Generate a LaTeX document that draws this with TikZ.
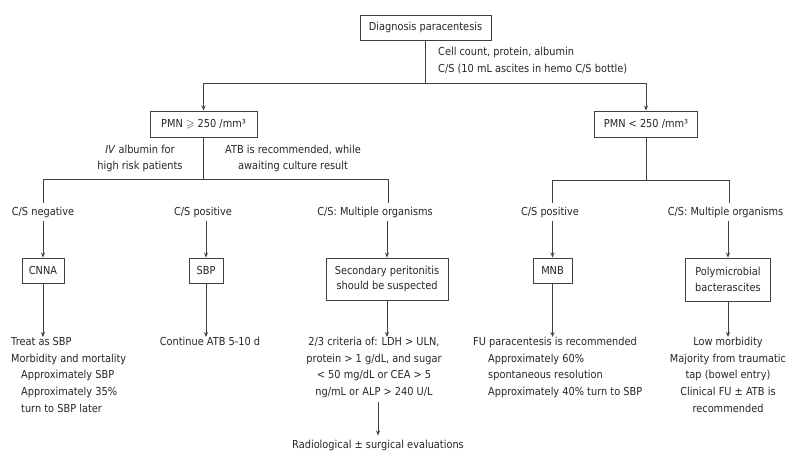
\documentclass[tikz,border=0pt]{standalone}
\usepackage{amssymb}
\usepackage{fontspec}
\setmainfont{DejaVu Sans}[FakeStretch=0.89]
\usetikzlibrary{arrows.meta}
\begin{document}
\begin{tikzpicture}[x=1pt,y=-1pt,
  every node/.style={font=\fontsize{11}{16.7}\selectfont, text=black!85},
  box/.style={draw=black!75, line width=0.9pt, minimum height=25pt, inner xsep=4pt, inner ysep=2pt, align=center},
  lbl/.style={inner xsep=2pt, inner ysep=3.5pt},
  txt/.style={inner sep=0pt},
  con/.style={draw=black!75, line width=0.9pt},
  arr/.style={con, -{Stealth[length=5pt,width=4pt]}}
]
\useasboundingbox (0,0) rectangle (800,455);

% top
\node[box, minimum width=131pt] (diag) at (425.5,27.5) {Diagnosis paracentesis};
\node[txt, anchor=west, align=left] (cell) at (438,60.5) {Cell count, protein, albumin\\C/S (10 mL ascites in hemo C/S bottle)};
\coordinate (j1) at (425.5,83);
\node[box, minimum width=107pt, minimum height=26pt] (pmnL) at (203.5,124) {PMN $\geqslant$ 250 /mm³};
\node[box, minimum width=103pt, minimum height=26pt] (pmnR) at (646,124) {PMN < 250 /mm³};
\draw[con] (diag.south) -- (j1);
\draw[arr] (j1) -| (pmnL.north);
\draw[arr] (j1) -| (pmnR.north);

% left branch texts
\node[txt, align=center] (alb) at (140,158.5) {\textit{IV} albumin for\\high risk patients};
\node[txt, align=center] (atb) at (293,158.5) {ATB is recommended, while\\awaiting culture result};

% left split
\coordinate (j2) at (203.5,179);
\coordinate (cL3) at (388,179);
\node[lbl] (lneg) at (43,212) {C/S negative};
\node[lbl] (lpos) at (203,212) {C/S positive};
\node[lbl] (lmul) at (375,212) {C/S: Multiple organisms};
\draw[con] (pmnL.south) -- (j2);
\draw[con] (lneg.north) |- (cL3) -- (cL3 |- lmul.north);

\node[box, minimum width=42pt] (cnna) at (43,270.5) {CNNA};
\node[box, minimum width=34pt] (sbp) at (206,270.5) {SBP};
\node[box, minimum width=122pt, minimum height=42pt, inner ysep=1pt] (sec) at (387,279) {Secondary peritonitis\\[-1pt]should be suspected};
\draw[arr] (lneg.south) -- (cnna.north);
\draw[arr] (sbp.north |- lpos.south) -- (sbp.north);
\draw[arr] (sec.north |- lmul.south) -- (sec.north);

% right split
\coordinate (j3) at (646,180);
\coordinate (cR1) at (552.5,180);
\coordinate (cR2) at (729,180);
\node[lbl] (rpos) at (550,212) {C/S positive};
\node[lbl] (rmul) at (725.5,212) {C/S: Multiple organisms};
\draw[con] (pmnR.south) -- (j3);
\draw[con] (cR1 |- rpos.north) -- (cR1) -- (cR2) -- (cR2 |- rmul.north);

\node[box, minimum width=39pt] (mnb) at (552.5,270.5) {MNB};
\node[box, minimum width=85pt, minimum height=43pt, inner ysep=1pt] (poly) at (728,279.5) {Polymicrobial\\[-1pt]bacterascites};
\draw[arr] (mnb.north |- rpos.south) -- (mnb.north);
\draw[arr] (poly.north |- rmul.south) -- (poly.north);

% bottom texts
\node[txt, anchor=north west, align=left] (cnnaT) at (11,337) {Treat as SBP\\Morbidity and mortality\\\hspace*{10pt}Approximately SBP\\\hspace*{10pt}Approximately 35\%\\\hspace*{10pt}turn to SBP later};
\node[txt, anchor=north] (sbpT) at (210,337) {Continue ATB 5-10 d};
\node[txt, anchor=north, align=center] (secT) at (374,337) {2/3 criteria of: LDH > ULN,\\protein > 1 g/dL, and sugar\\< 50 mg/dL or CEA > 5\\ng/mL or ALP > 240 U/L};
\node[txt] (rad) at (378,445) {Radiological ± surgical evaluations};
\node[txt, anchor=north west, align=left] (mnbT) at (473,337) {FU paracentesis is recommended\\\hspace*{15pt}Approximately 60\%\\\hspace*{15pt}spontaneous resolution\\\hspace*{15pt}Approximately 40\% turn to SBP};
\node[txt, anchor=north, align=center] (polyT) at (728,337) {Low morbidity\\Majority from traumatic\\tap (bowel entry)\\Clinical FU ± ATB is\\recommended};

\draw[arr] (cnna.south) -- (cnna.south |- cnnaT.north);
\draw[arr] (sbp.south) -- (sbp.south |- sbpT.north);
\draw[arr] (sec.south) -- (sec.south |- secT.north);
\draw[arr] ([yshift=-4pt]rad.north |- secT.south) -- ([yshift=4pt]rad.north);
\draw[arr] (mnb.south) -- (mnb.south |- mnbT.north);
\draw[arr] (poly.south) -- (poly.south |- polyT.north);
\end{tikzpicture}
\end{document}
